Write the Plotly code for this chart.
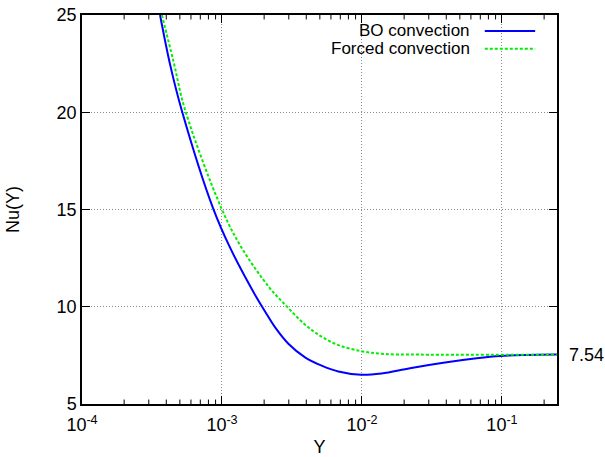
import plotly.graph_objects as go

# Local Nusselt number vs. dimensionless axial coordinate Y
bo_Y = [3.61e-4, 4.26e-4, 5.15e-4, 8.67e-4, 1.14e-3, 1.72e-3, 2.03e-3, 2.39e-3,
        2.98e-3, 3.92e-3, 5.15e-3, 6.78e-3, 9.84e-3, 1.38e-2, 2.20e-2,
        3.81e-2, 6.59e-2, 9.68e-2, 1.50e-1, 2.47e-1]
bo_Nu = [25.0, 22.45, 20.12, 15.03, 13.05, 10.62, 9.76, 8.95,
         8.10, 7.40, 6.97, 6.67, 6.50, 6.57, 6.84,
         7.12, 7.35, 7.47, 7.52, 7.54]

fc_Y = [3.72e-4, 4.49e-4, 5.45e-4, 9.95e-4, 1.39e-3, 2.20e-3, 2.90e-3, 3.92e-3,
        5.15e-3, 6.78e-3, 9.84e-3, 1.38e-2, 2.59e-2, 2.47e-1]
fc_Nu = [25.0, 22.65, 20.12, 15.03, 13.0, 10.95, 10.02, 9.08,
         8.46, 8.03, 7.72, 7.58, 7.54, 7.54]

asymptote = 7.54
x_ticks = [1e-4, 1e-3, 1e-2, 1e-1]
x_tick_text = ["10<sup>-4</sup>", "10<sup>-3</sup>", "10<sup>-2</sup>", "10<sup>-1</sup>"]
y_ticks = [5, 10, 15, 20, 25]
x_minor = [m * 10.0 ** e for e in (-4, -3, -2, -1) for m in range(2, 10) if m * 10.0 ** e < 0.247]

FONT = "Liberation Sans, Arial, Helvetica, sans-serif"
FS = 18
BLUE = "#0000ff"
GREEN = "#00ee00"
GRID = "#8a8a8a"
Y_MIN, Y_MAX = 5, 25
MINOR_LEN = 0.23  # minor tick length in Nu units (about 4.5 px)

fig = go.Figure()
fig.add_trace(go.Scatter(x=bo_Y, y=bo_Nu, mode="lines", name="BO convection",
                         line=dict(color=BLUE, width=2, shape="spline", smoothing=1.0),
                         showlegend=False))
fig.add_trace(go.Scatter(x=fc_Y, y=fc_Nu, mode="lines", name="Forced convection",
                         line=dict(color=GREEN, width=2, dash="3px,2px", shape="spline", smoothing=1.0),
                         showlegend=False))

# Hand-built key in the top-right corner (text to the left of the line sample)
key = [("BO convection", BLUE, "solid", 0.959), ("Forced convection", GREEN, "3px,2px", 0.913)]
for label, color, dash, yk in key:
    fig.add_annotation(xref="paper", yref="paper", x=0.822, y=yk, text=label,
                       showarrow=False, xanchor="right", yanchor="middle",
                       font=dict(family=FONT, size=17, color="black"))
    fig.add_shape(type="line", xref="paper", yref="paper", x0=0.848, x1=0.954, y0=yk, y1=yk,
                  line=dict(color=color, width=2, dash=dash))

# Minor log ticks, drawn inward on the bottom and top frame edges
for xv in x_minor:
    for y0, y1 in ((Y_MIN, Y_MIN + MINOR_LEN), (Y_MAX, Y_MAX - MINOR_LEN)):
        fig.add_shape(type="line", xref="x", yref="y", x0=xv, x1=xv, y0=y0, y1=y1,
                      line=dict(color="black", width=1), layer="above")

# Value of the asymptote written just outside the right frame
fig.add_annotation(xref="paper", yref="y", x=1.02, y=asymptote, text=f"{asymptote:.2f}",
                   showarrow=False, xanchor="left", yanchor="middle",
                   font=dict(family=FONT, size=FS, color="black"))

fig.update_layout(
    xaxis=dict(type="log", range=[-4, -0.607], tickvals=x_ticks, ticktext=x_tick_text,
               ticks="inside", ticklen=8, tickwidth=1, tickcolor="black",
               showline=True, linecolor="black", linewidth=1.5, mirror="ticks",
               showgrid=True, gridcolor=GRID, griddash="1px,2px", gridwidth=1,
               zeroline=False, automargin=False, ticklabelstandoff=4,
               title=dict(text="Y", font=dict(family=FONT, size=FS, color="black"), standoff=21),
               tickfont=dict(family=FONT, size=FS, color="black")),
    yaxis=dict(range=[Y_MIN, Y_MAX], tickvals=y_ticks,
               ticks="inside", ticklen=8, tickwidth=1, tickcolor="black",
               showline=True, linecolor="black", linewidth=1.5, mirror="ticks",
               showgrid=True, gridcolor=GRID, griddash="1px,2px", gridwidth=1,
               zeroline=False, automargin=False,
               title=dict(text="Nu(Y)", font=dict(family=FONT, size=FS, color="black"), standoff=32),
               tickfont=dict(family=FONT, size=FS, color="black")),
    width=605, height=457, margin=dict(l=82, r=48, t=15, b=53),
    paper_bgcolor="white", plot_bgcolor="white",
    font=dict(family=FONT, size=FS, color="black"),
)

fig.write_html("out.html")
